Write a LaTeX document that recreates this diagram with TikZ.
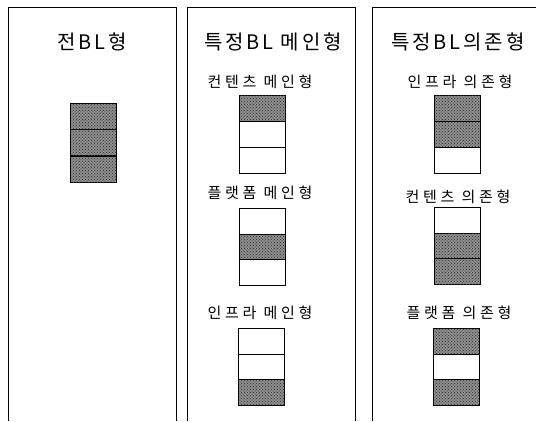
\documentclass[tikz,border=0pt]{standalone}
\usepackage{fontspec}
\newfontfamily\krt{Noto Sans CJK KR}[LetterSpace=14]
\newfontfamily\krl{Noto Sans CJK KR}[LetterSpace=25]
\usetikzlibrary{patterns}
\begin{document}
\begin{tikzpicture}[x=1pt,y=-1pt,
  panel/.style={line width=0.9pt},
  cell/.style={draw, line width=1pt, minimum width=46pt, minimum height=26pt, inner sep=0pt, anchor=north west},
  on/.style={cell, fill=black!45, postaction={pattern=crosshatch dots, pattern color=black!80}},
  off/.style={cell, fill=white},
  ttl/.style={font=\krt\fontsize{20}{24}\selectfont},
  lab/.style={font=\krl\fontsize{15}{18}\selectfont}]
\useasboundingbox (0,0) rectangle (536,421);
% panels
\draw[panel] (8,421) -- (8,7) -- (176,7) -- (176,421);
\draw[panel] (187,421) -- (187,7) -- (355,7) -- (355,421);
\draw[panel] (372,421) -- (372,7) -- (536,7);
% titles
\node[ttl] (t1) at (92,42) {전BL형};
\node[ttl] (t2) at (273,42) {특정BL 메인형};
\node[ttl] (t3) at (458,42) {특정BL의존형};
% panel 1
\node[on] (a1) at (70,103) {};
\node[on] (a2) at (70,129.3) {};
\node[on] (a3) at (70,155.6) {};
% panel 2
\node[lab] (l21) at (260,82) {컨텐츠 메인형};
\node[on]  (b11) at (239,95) {};
\node[off] (b12) at (239,121) {};
\node[off] (b13) at (239,147) {};
\node[lab] (l22) at (260,193) {플랫폼 메인형};
\node[off] (b21) at (239,208) {};
\node[on]  (b22) at (239,233.7) {};
\node[off] (b23) at (239,259.4) {};
\node[lab] (l23) at (260,313) {인프라 메인형};
\node[off] (b31) at (238,328) {};
\node[off] (b32) at (238,353.7) {};
\node[on]  (b33) at (238,379.4) {};
% panel 3
\node[lab] (l31) at (460,82) {인프라 의존형};
\node[on]  (c11) at (434,95) {};
\node[on]  (c12) at (434,121) {};
\node[off] (c13) at (434,147) {};
\node[lab] (l32) at (458,197) {컨텐츠 의존형};
\node[off] (c21) at (434,207) {};
\node[on]  (c22) at (434,232.7) {};
\node[on]  (c23) at (434,258.4) {};
\node[lab] (l33) at (459,313) {플랫폼 의존형};
\node[on]  (c31) at (433,328) {};
\node[off] (c32) at (433,353.7) {};
\node[on]  (c33) at (433,379.4) {};
\end{tikzpicture}
\end{document}
